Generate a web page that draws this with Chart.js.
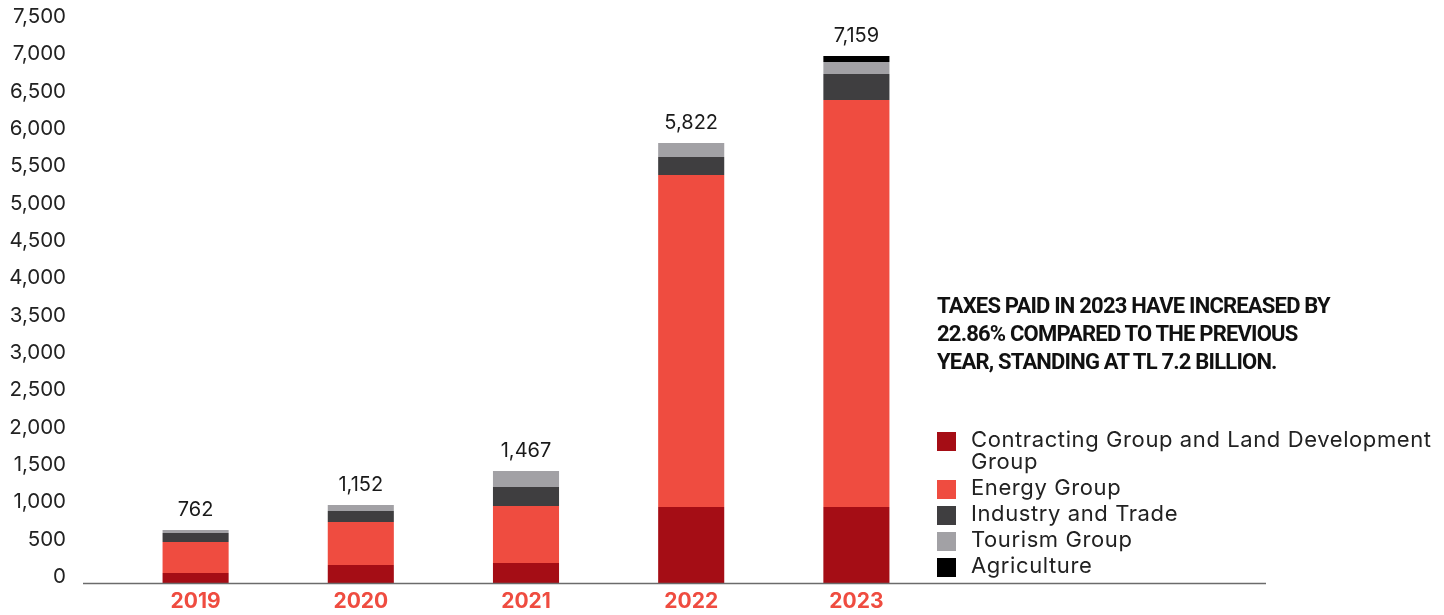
<!DOCTYPE html>
<html>
<head>
<meta charset="utf-8">
<script src="https://cdn.jsdelivr.net/npm/chart.js@4/dist/chart.umd.min.js"></script>
<style>
  html, body { margin: 0; padding: 0; background: #fff; }
  #wrap { position: relative; width: 1444px; height: 615px; }
  #note {
    position: absolute; left: 937px; top: 292px;
    font-family: Roboto, sans-serif; font-weight: 700; font-size: 22px;
    line-height: 28px; color: #111; letter-spacing: -0.8px;
    white-space: nowrap;
  }
  #legend { position: absolute; left: 937px; top: 428px; font-family: Inter, sans-serif; font-size: 22px; color: #222; letter-spacing: 0.6px; }
  .item { position: relative; padding-left: 34px; line-height: 22px; margin-bottom: 4px; }
  .sw { position: absolute; left: 0; top: 4px; width: 19px; height: 19px; }
</style>
</head>
<body>
<div id="wrap">
  <canvas id="myChart" width="1444" height="615"></canvas>
  <div id="note">TAXES PAID IN 2023 HAVE INCREASED BY<br>22.86% COMPARED TO THE PREVIOUS<br>YEAR, STANDING AT TL 7.2 BILLION.</div>
  <div id="legend"></div>
</div>
<script>
// segment values, totals as printed above the bars
const years = ["2019", "2020", "2021", "2022", "2023"];
const contracting = [134, 241, 268, 1018, 1018];
const energy = [415, 576, 763, 4446, 5451];
const industry = [121, 147, 254, 241, 348];
const tourism = [40, 80, 214, 187, 161];
const agriculture = [0, 0, 0, 0, 80];
const totals = ["762", "1,152", "1,467", "5,822", "7,159"];
const yTicks = [0, 500, 1000, 1500, 2000, 2500, 3000, 3500, 4000, 4500, 5000, 5500, 6000, 6500, 7000, 7500];

const seriesNames = ["Contracting Group and Land Development Group", "Energy Group", "Industry and Trade", "Tourism Group", "Agriculture"];
const seriesColors = ["#a50d15", "#ef4c40", "#3f3e40", "#a2a1a5", "#000000"];
const seriesData = [contracting, energy, industry, tourism, agriculture];

// legend as html so the first label can wrap
const legendEl = document.getElementById("legend");
seriesNames.forEach((name, i) => {
    const d = document.createElement("div");
    d.className = "item";
    const label = i === 0 ? "Contracting Group and Land Development<br>Group" : name;
    d.innerHTML = '<span class="sw" style="background:' + seriesColors[i] + '"></span>' + label;
    legendEl.appendChild(d);
});

const totalLabels = {
    id: "totalLabels",
    afterDatasetsDraw(chart) {
        const ctx = chart.ctx;
        const y = chart.scales.y;
        const x = chart.scales.x;
        ctx.save();
        ctx.font = "20px Inter, sans-serif";
        ctx.fillStyle = "#1a1a1a";
        ctx.textAlign = "center";
        ctx.textBaseline = "alphabetic";
        years.forEach((yr, i) => {
            let sum = 0;
            seriesData.forEach(s => sum += s[i]);
            ctx.fillText(totals[i], x.getPixelForValue(i), y.getPixelForValue(sum) - 14);
        });
        // long baseline under the bars
        ctx.strokeStyle = "#6b6b6b";
        ctx.lineWidth = 1.5;
        ctx.beginPath();
        ctx.moveTo(83, chart.chartArea.bottom + 0.5);
        ctx.lineTo(1266, chart.chartArea.bottom + 0.5);
        ctx.stroke();
        ctx.restore();
    }
};

const myChartRef = document.getElementById("myChart").getContext("2d");
new Chart(myChartRef, {
    type: "bar",
    data: {
        labels: years,
        datasets: seriesNames.map((name, i) => ({
            label: name,
            backgroundColor: seriesColors[i],
            data: seriesData[i],
            borderWidth: 0
        }))
    },
    options: {
        responsive: false,
        animation: false,
        layout: { padding: { top: 23, right: 505, left: 0, bottom: 0 } },
        plugins: { legend: { display: false }, tooltip: { enabled: false } },
        datasets: { bar: { categoryPercentage: 1, barPercentage: 0.4 } },
        scales: {
            x: {
                stacked: true,
                grid: { display: false, drawTicks: false },
                border: { display: false },
                ticks: { color: "#ef4c40", font: { family: "Inter, sans-serif", size: 21, weight: "bold" }, padding: 6 },
                afterFit(scale) { scale.height = 32; }
            },
            y: {
                stacked: true,
                min: 0,
                max: 7500,
                grid: { display: false, drawTicks: false },
                border: { display: false },
                afterBuildTicks(scale) { scale.ticks = yTicks.map(v => ({ value: v })); },
                ticks: {
                    color: "#222",
                    font: { family: "Inter, sans-serif", size: 20.5 },
                    padding: 47,
                    labelOffset: -6,
                    callback: v => v.toLocaleString("en-US")
                },
                afterFit(scale) {
                    scale.width = 113;
                    // tick padding is only meant sideways here
                    scale.paddingTop = 12;
                    scale.paddingBottom = 0;
                }
            }
        }
    },
    plugins: [totalLabels]
});
</script>
</body>
</html>
